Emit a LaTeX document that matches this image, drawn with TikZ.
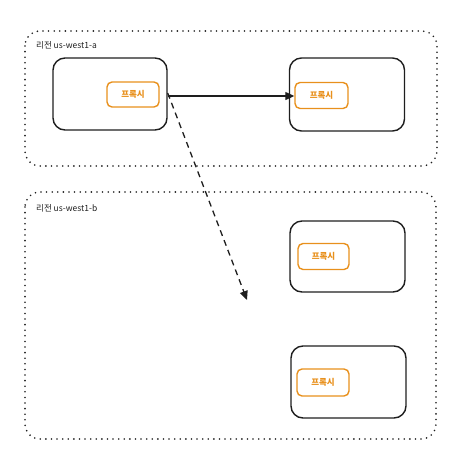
\documentclass[tikz,border=0pt]{standalone}
\usepackage{fontspec}
\newfontfamily\krfont{Noto Sans CJK KR}
\usetikzlibrary{arrows.meta}
\definecolor{proxyorange}{HTML}{E8901C}
\definecolor{inkblack}{HTML}{1E1E1E}
\tikzset{
  x=1pt, y=-1pt,
  zone/.style={draw=inkblack, line width=1.8pt, line cap=round, dash pattern=on 0pt off 5.6pt, rounded corners=15pt},
  zonelabel/.style={anchor=west, inner sep=0pt, font=\krfont\fontsize{8.5}{9}\selectfont, text=inkblack},
  hostbox/.style={draw=inkblack, line width=1.4pt, rounded corners=12pt, inner sep=0pt},
  proxybox/.style={draw=proxyorange, line width=1.4pt, rounded corners=5pt, inner sep=0pt, text=proxyorange, font=\krfont\bfseries\fontsize{8.5}{9}\selectfont},
  link/.style={draw=inkblack, line width=1.3pt, -{Triangle[length=9pt,width=8pt]}},
  dashlink/.style={link, dash pattern=on 6pt off 4.5pt},
}
\begin{document}
\begin{tikzpicture}
\useasboundingbox (0,0) rectangle (452,459);
% zones
\draw[zone] (25,31) rectangle (437,166);
\draw[zone] (25,192) rectangle (436,439);
\node[zonelabel] (la) at (36,45) {리전 us-west1-a};
\node[zonelabel] (lb) at (36,208) {리전 us-west1-b};
% hosts
\node[hostbox, minimum width=114pt, minimum height=72pt] (ha) at (110,94) {};
\node[hostbox, minimum width=115pt, minimum height=73pt] (hb) at (347,94.5) {};
\node[hostbox, minimum width=115pt, minimum height=71pt] (hc) at (347.5,256.5) {};
\node[hostbox, minimum width=115pt, minimum height=72pt] (hd) at (348.5,382) {};
% proxies
\node[proxybox, minimum width=52pt, minimum height=25pt] (pa) at (133,94.5) {프록시};
\node[proxybox, minimum width=53pt, minimum height=26pt] (pb) at (321.5,95.5) {프록시};
\node[proxybox, minimum width=51pt, minimum height=26pt] (pc) at (323.5,256.5) {프록시};
\node[proxybox, minimum width=52pt, minimum height=27pt] (pd) at (323,382.5) {프록시};
% connectors
\coordinate (tip) at (247,300);
\draw[link] (ha.east |- 0,96) -- (pb.west |- 0,96);
\draw[dashlink] ([yshift=3pt]ha.east |- 0,96) -- (tip);
\end{tikzpicture}
\end{document}
